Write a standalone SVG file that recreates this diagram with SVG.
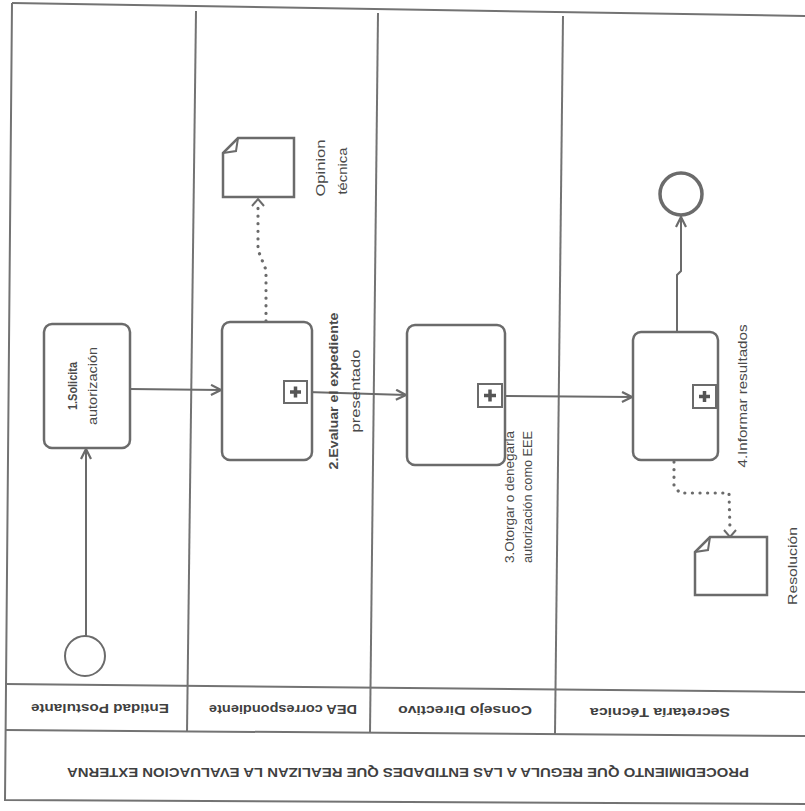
<svg xmlns="http://www.w3.org/2000/svg" width="805" height="811" viewBox="0 0 805 811">
<style>
.frame{fill:none;stroke:#737373;stroke-width:2}
.task{fill:#fff;stroke:#6b6b6b;stroke-width:2.5}
.flow{fill:none;stroke:#6b6b6b;stroke-width:2}
.assoc{fill:none;stroke:#6b6b6b;stroke-width:3.2;stroke-dasharray:0.1 7.5;stroke-linecap:round}
.lbl{font-family:"Liberation Sans",Arial,sans-serif;font-size:12px;fill:#4a4a4a;text-anchor:middle}
.lane{font-family:"Liberation Sans",Arial,sans-serif;font-size:12px;font-weight:bold;fill:#404040;text-anchor:middle}
.title{font-family:"Liberation Sans",Arial,sans-serif;font-size:13px;font-weight:bold;fill:#404040;text-anchor:middle}
.mk{fill:#fff;stroke:#6b6b6b;stroke-width:2}
.plus{stroke:#555;stroke-width:3.5}
</style>
<defs>
<marker id="arr" viewBox="0 0 12 12" refX="11" refY="6" markerWidth="12" markerHeight="12" markerUnits="userSpaceOnUse" orient="auto">
<path d="M1,1 L11,6 L1,11" fill="none" stroke="#6b6b6b" stroke-width="2.2"/>
</marker>
</defs>

<g id="pool">
<path class="frame" d="M12,3 L805,16"/>
<path class="frame" d="M12,3 L5,800 L805,804"/>
<path class="frame" d="M5,684 L805,692"/>
<path class="frame" d="M5,730 L805,736"/>
<path class="frame" d="M196,11 L187,732"/>
<path class="frame" d="M378,13 L370,733"/>
<path class="frame" d="M563,16 L555,734"/>
<text class="title" x="408" y="778" transform="rotate(180 408 773)" textLength="682" lengthAdjust="spacingAndGlyphs">PROCEDIMIENTO QUE REGULA A LAS ENTIDADES QUE REALIZAN LA EVALUACION EXTERNA</text>
</g>

<g id="lane-labels">
<text class="lane" x="100" y="712" transform="rotate(180 100 708)" textLength="138" lengthAdjust="spacingAndGlyphs">Entidad Postulante</text>
<text class="lane" x="283" y="713" transform="rotate(180 283 709)" textLength="148" lengthAdjust="spacingAndGlyphs">DEA correspondiente</text>
<text class="lane" x="465" y="714" transform="rotate(180 465 710)" textLength="134" lengthAdjust="spacingAndGlyphs">Consejo Directivo</text>
<text class="lane" x="660" y="716" transform="rotate(180 660 712)" textLength="140" lengthAdjust="spacingAndGlyphs">Secretaría Técnica</text>
</g>

<g id="connectors">
<path class="flow" d="M86,636 L86,449" marker-end="url(#arr)"/>
<path class="flow" d="M130,389 L221,390" marker-end="url(#arr)"/>
<path class="flow" d="M307,392 L406,395" marker-end="url(#arr)"/>
<path class="flow" d="M502,396 L632,397" marker-end="url(#arr)"/>
<path class="flow" d="M677,332 L677,275 L681,271 L681,217" marker-end="url(#arr)"/>
<path class="assoc" d="M266,321 L266,270 L258,250 L258,206"/>
<path class="flow" d="M252,206 L258,199 L264,206"/>
<path class="assoc" d="M674,462 L674,486 L680,493 L729,493 L730,530"/>
<path class="flow" d="M724,530 L730,537 L736,530"/>
</g>

<g id="start">
<circle cx="85" cy="656" r="20" fill="#fff" stroke="#6b6b6b" stroke-width="2"/>
</g>

<g id="task1">
<rect class="task" x="44" y="324" width="86" height="124" rx="8"/>
<text class="lbl" style="font-weight:bold" transform="translate(77 386) rotate(-90)" textLength="48" lengthAdjust="spacingAndGlyphs">1.Solicita</text>
<text class="lbl" transform="translate(97 386) rotate(-90)" textLength="78" lengthAdjust="spacingAndGlyphs">autorización</text>
</g>

<g id="task2">
<rect class="task" x="222" y="322" width="90" height="138" rx="8"/>
<rect class="mk" x="284" y="381" width="23" height="22"/>
<path class="plus" d="M290,392 H301 M295.5,386.5 V397.5"/>
<text class="lbl" style="font-size:13px;font-weight:bold" transform="translate(338 391) rotate(-90)" textLength="157" lengthAdjust="spacingAndGlyphs">2.Evaluar el expediente</text>
<text class="lbl" style="font-size:13px" transform="translate(360 391) rotate(-90)" textLength="83" lengthAdjust="spacingAndGlyphs">presentado</text>
</g>

<g id="opinion">
<path class="task" d="M238,138 L294,138 L294,197 L223,197 L223,153 Z"/>
<path class="flow" d="M223,153 L236,151 L238,138"/>
<text class="lbl" style="font-size:13px" transform="translate(325 168) rotate(-90)" textLength="57" lengthAdjust="spacingAndGlyphs">Opinion</text>
<text class="lbl" style="font-size:13px" transform="translate(347 171) rotate(-90)" textLength="47" lengthAdjust="spacingAndGlyphs">técnica</text>
</g>

<g id="task3">
<rect class="task" x="407" y="325" width="98" height="140" rx="8"/>
<rect class="mk" x="478" y="384" width="24" height="23"/>
<path class="plus" d="M484,395.5 H496 M490,389.5 V401.5"/>
<text class="lbl" transform="translate(514 497) rotate(-90)" textLength="132" lengthAdjust="spacingAndGlyphs">3.Otorgar o denegarla</text>
<text class="lbl" transform="translate(532 497) rotate(-90)" textLength="132" lengthAdjust="spacingAndGlyphs">autorización como EEE</text>
</g>

<g id="task4">
<rect class="task" x="633" y="332" width="85" height="128" rx="8"/>
<rect class="mk" x="693" y="385" width="23" height="23"/>
<path class="plus" d="M699,396.5 H710 M704.5,391 V402"/>
<text class="lbl" style="font-size:13px" transform="translate(747 396) rotate(-90)" textLength="143" lengthAdjust="spacingAndGlyphs">4.Informar resultados</text>
</g>

<g id="end">
<circle cx="681" cy="194" r="21" fill="#fff" stroke="#6b6b6b" stroke-width="3.5"/>
</g>

<g id="resolucion">
<path class="task" d="M710,537 L767,537 L767,595 L695,595 L695,552 Z"/>
<path class="flow" d="M695,552 L708,550 L710,537"/>
<text class="lbl" style="font-size:13px" transform="translate(797 566) rotate(-90)" textLength="78" lengthAdjust="spacingAndGlyphs">Resolución</text>
</g>
</svg>
